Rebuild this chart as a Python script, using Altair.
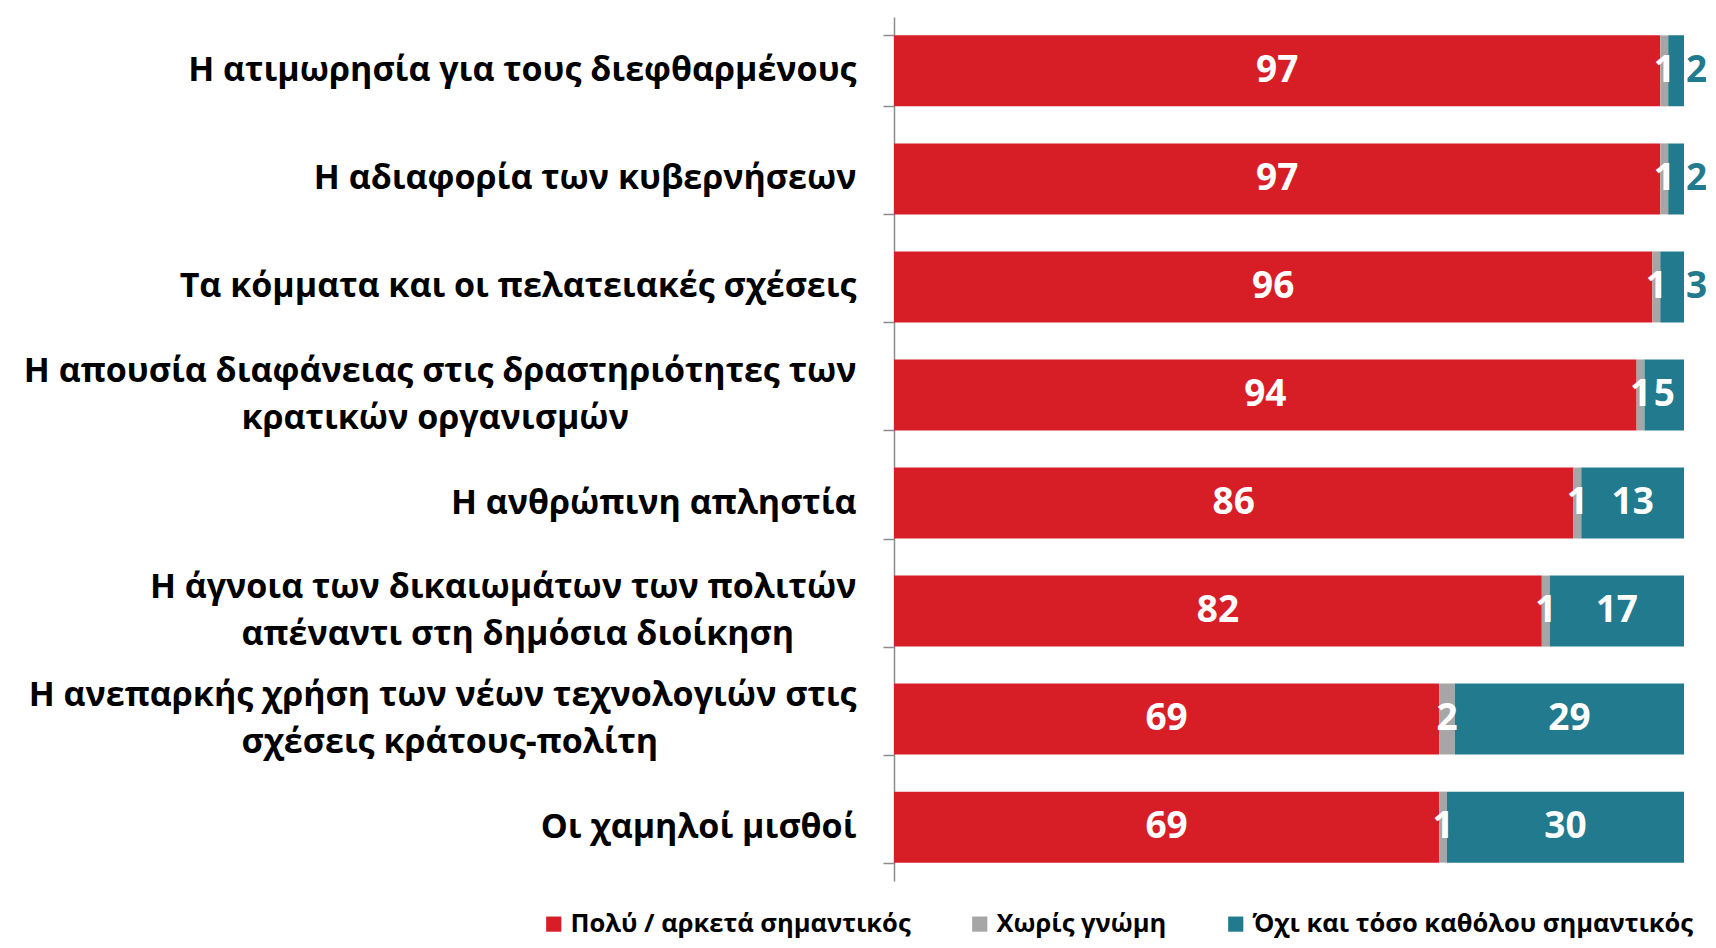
import altair as alt
import pandas as pd

items = [
    "Η ατιμωρησία για τους διεφθαρμένους",
    "Η αδιαφορία των κυβερνήσεων",
    "Τα κόμματα και οι πελατειακές σχέσεις",
    "Η απουσία διαφάνειας στις δραστηριότητες των|κρατικών οργανισμών",
    "Η ανθρώπινη απληστία",
    "Η άγνοια των δικαιωμάτων των πολιτών|απέναντι στη δημόσια διοίκηση",
    "Η ανεπαρκής χρήση των νέων τεχνολογιών στις|σχέσεις κράτους-πολίτη",
    "Οι χαμηλοί μισθοί",
]
series = ["Πολύ / αρκετά σημαντικός", "Χωρίς γνώμη", "Όχι και τόσο καθόλου σημαντικός"]
important = [97, 97, 96, 94, 86, 82, 69, 69]
no_opinion = [1, 1, 1, 1, 1, 1, 2, 1]
not_important = [2, 2, 3, 5, 13, 17, 29, 30]
colors = ["#D71E27", "#A6A6A6", "#217A8D"]

rows = []
for i, it in enumerate(items):
    for k, vals in enumerate([important, no_opinion, not_important]):
        rows.append({"item": it, "series": series[k], "order": k, "value": vals[i]})
df = pd.DataFrame(rows)

FONT = "Open Sans"
LFS = 34
IS_MULTI = "indexof(datum.label, '|') >= 0"

label_style = dict(labelFont=FONT, labelFontSize=LFS, labelFontWeight="bold",
                   labelColor="#000000", labelLimit=1200, labelOverlap=False)

base = alt.Chart(df).transform_stack(
    stack="value", as_=["x0", "x1"], groupby=["item"], sort=[alt.SortField("order")]
).transform_calculate(
    mid="(datum.x0 + datum.x1) / 2",
    outside="datum.order == 2 && datum.value <= 3",
)

xs = alt.Scale(domain=[0, 100], nice=False, zero=True)
ys = alt.Scale(domain=items, paddingInner=0.343, paddingOuter=0.17)

# main axis: single-line labels, domain and ticks
bars = base.mark_bar().encode(
    y=alt.Y("item:N", scale=ys, sort=items, title=None,
            axis=alt.Axis(orient="left", labelExpr=f"{IS_MULTI} ? '' : datum.label",
                          labelPadding=27, tickBand="extent", tickSize=11,
                          tickColor="#8C8C8C", tickWidth=1.5,
                          domainColor="#8C8C8C", domainWidth=1.5, grid=False, **label_style)),
    x=alt.X("x0:Q", scale=xs, axis=None),
    x2="x1:Q",
    color=alt.Color("series:N", scale=alt.Scale(domain=series, range=colors), sort=series,
                    legend=alt.Legend(title=None, orient="none", direction="horizontal",
                                      legendX=-353, legendY=894, labelFont=FONT,
                                      labelFontSize=25.5, labelFontWeight="bold",
                                      labelColor="#000000", symbolType="square",
                                      symbolSize=230, symbolStrokeWidth=0,
                                      columnPadding=56, labelOffset=4, labelLimit=700)),
)

# first lines of two-line labels
first_lines = base.mark_point(opacity=0).encode(
    y=alt.Y("item:N", scale=ys, sort=items, title=None,
            axis=alt.Axis(orient="left",
                          labelExpr=f"{IS_MULTI} ? split(datum.label, '|')[0] : ''",
                          labelPadding=38, labelOffset=-23.5, ticks=False, tickSize=0,
                          domain=False, grid=False, **label_style)),
)

# second lines of two-line labels
second_lines = base.mark_point(opacity=0).encode(
    y=alt.Y("item:N", scale=ys, sort=items, title=None,
            axis=alt.Axis(orient="left",
                          labelExpr=f"{IS_MULTI} ? split(datum.label, '|')[1] : ''",
                          labelPadding=653, labelOffset=23.5, labelAlign="left",
                          ticks=False, tickSize=0, domain=False, grid=False, **label_style)),
)

inside = base.transform_filter("!datum.outside").mark_text(
    font=FONT, fontSize=37, fontWeight="bold", color="white", baseline="middle", align="center"
).encode(
    y=alt.Y("item:N", scale=ys, sort=items, axis=None),
    x=alt.X("mid:Q", scale=xs, axis=None),
    text="value:Q",
)

outside = base.transform_filter("datum.outside").mark_text(
    font=FONT, fontSize=37, fontWeight="bold", color="#217A8D", baseline="middle", align="left", dx=2
).encode(
    y=alt.Y("item:N", scale=ys, sort=items, axis=None),
    x=alt.X("x1:Q", scale=xs, axis=None),
    text="value:Q",
)

chart = alt.layer(bars, first_lines, second_lines, inside, outside).resolve_scale(
    y="independent"
).resolve_axis(y="independent").properties(
    width=790, height=864,
    background="white",
    autosize=alt.AutoSizeParams(type="none"),
    padding={"left": 886, "top": 9, "right": 22, "bottom": 59},
).configure_view(strokeWidth=0, stroke="transparent", strokeOpacity=0)

chart.save("out.html", embed_options={"renderer": "svg", "actions": False})
